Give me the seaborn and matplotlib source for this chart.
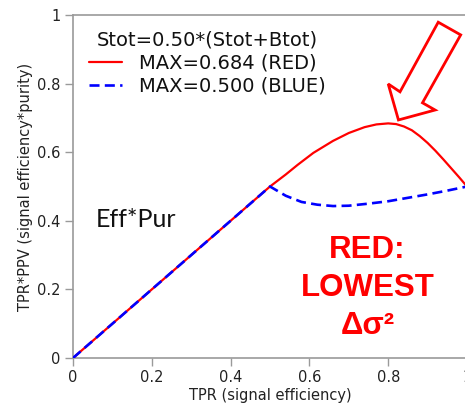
import numpy as np
import pandas as pd
import matplotlib
matplotlib.use("Agg")
import matplotlib.pyplot as plt
import seaborn as sns
from matplotlib.patches import Polygon

# ---- data ----
tpr_red = [0.0, 0.5, 0.54, 0.57, 0.61, 0.66, 0.70, 0.74, 0.77, 0.80, 0.82, 0.84,
           0.86, 0.88, 0.90, 0.92, 0.94, 0.96, 0.98, 1.0]
eff_pur_red = [0.0, 0.500, 0.535, 0.563, 0.598, 0.633, 0.656, 0.673, 0.681, 0.684,
               0.682, 0.675, 0.664, 0.647, 0.627, 0.604, 0.579, 0.553, 0.527, 0.500]
tpr_blue = [0.0, 0.5, 0.54, 0.58, 0.62, 0.66, 0.70, 0.75, 0.80, 0.85, 0.90, 0.95, 1.0]
eff_pur_blue = [0.0, 0.500, 0.473, 0.455, 0.447, 0.443, 0.444, 0.450, 0.457, 0.467,
                0.477, 0.488, 0.500]
legend_title = "Stot=0.50*(Stot+Btot)"
label_red = "MAX=0.684 (RED)"
label_blue = "MAX=0.500 (BLUE)"
tick_vals = [0, 0.2, 0.4, 0.6, 0.8, 1.0]
tick_labels = ["0", "0.2", "0.4", "0.6", "0.8", "1"]

sns.set_theme(style="white")
plt.rcParams['font.family'] = ['DejaVu Sans']

fig = plt.figure(figsize=(4.65, 4.08), dpi=100)
ax = fig.add_axes([73/465, 50/408, 394/465, 343/408])

df_red = pd.DataFrame({"TPR": tpr_red, "val": eff_pur_red})
df_blue = pd.DataFrame({"TPR": tpr_blue, "val": eff_pur_blue})
sns.lineplot(data=df_red, x="TPR", y="val", ax=ax, color="#ff0000", lw=1.6,
             label=label_red, sort=False, zorder=3)
sns.lineplot(data=df_blue, x="TPR", y="val", ax=ax, color="#0000ff", lw=1.9,
             label=label_blue, sort=False, zorder=4)
ax.lines[1].set_dashes([3.8, 2.0])

ax.set_xlim(0, 1)
ax.set_ylim(0, 1)
ax.set_xticks(tick_vals)
ax.set_xticklabels(tick_labels)
ax.set_yticks(tick_vals)
ax.set_yticklabels(tick_labels)
ax.tick_params(axis="both", which="both", direction="out", length=6, width=1,
               color="#9a9a9a", labelsize=10.5, labelcolor="#222222", pad=3,
               bottom=True, left=True)
for s in ["left", "bottom", "top", "right"]:
    ax.spines[s].set_color("#9a9a9a")
    ax.spines[s].set_linewidth(1.2)

ax.set_xlabel("TPR (signal efficiency)", fontsize=10.5, color="#222222", labelpad=2)
ax.set_ylabel("TPR*PPV (signal efficiency*purity)", fontsize=10.5, color="#222222", labelpad=3)

leg = ax.legend(title=legend_title, loc="upper left", bbox_to_anchor=(0.01, 0.99),
                frameon=False, fontsize=14, title_fontsize=14, handlelength=1.7,
                handletextpad=0.9, labelspacing=0.22, borderaxespad=0.2)
leg.get_title().set_color("#111111")
for t in leg.get_texts():
    t.set_color("#111111")

ax.text(0.057, 0.405, "Eff*Pur", transform=ax.transAxes, fontsize=18,
        family=["Lato", "DejaVu Sans"], color="#111111", ha="left", va="center")

ax.text(0.747, 0.205, "RED:\nLOWEST\nΔσ²", transform=ax.transAxes, fontsize=22.5,
        family=["Liberation Sans", "DejaVu Sans"], fontweight="bold", color="#ff0000",
        ha="center", va="center", linespacing=1.35)

arrow_pts = [(0.927, 0.979), (0.984, 0.942), (0.887, 0.744), (0.919, 0.723),
             (0.826, 0.694), (0.800, 0.799), (0.830, 0.776)]
ax.add_patch(Polygon(arrow_pts, closed=True, transform=ax.transAxes,
                     facecolor="white", edgecolor="#ff0000", lw=2.0, zorder=5,
                     clip_on=False))

fig.savefig("out.png", dpi=100)
